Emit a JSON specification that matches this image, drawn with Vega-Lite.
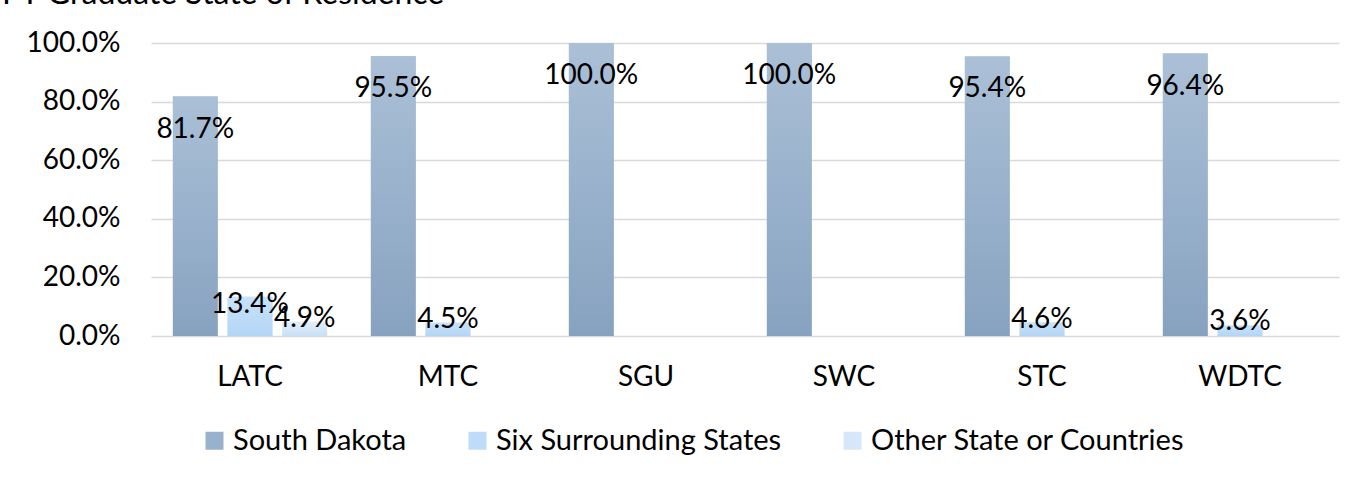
{
  "$schema": "https://vega.github.io/schema/vega-lite/v6.json",
  "autosize": {"type": "none"},
  "width": 1188,
  "height": 293,
  "padding": {"left": 151, "top": 43, "right": 33, "bottom": 143},
  "background": "white",
  "title": {
    "text": "FY Graduate State of Residence",
    "anchor": "start",
    "frame": "group",
    "dx": -149,
    "offset": -7,
    "baseline": "alphabetic",
    "fontSize": 32,
    "fontWeight": "normal",
    "font": "Lato",
    "color": "#000000"
  },
  "data": {
    "values": [
      {"college": "LATC", "series": "South Dakota", "value": 0.817},
      {"college": "LATC", "series": "Six Surrounding States", "value": 0.134},
      {"college": "LATC", "series": "Other State or Countries", "value": 0.049},
      {"college": "MTC", "series": "South Dakota", "value": 0.955},
      {"college": "MTC", "series": "Six Surrounding States", "value": 0.045},
      {"college": "SGU", "series": "South Dakota", "value": 1.0},
      {"college": "SWC", "series": "South Dakota", "value": 1.0},
      {"college": "STC", "series": "South Dakota", "value": 0.954},
      {"college": "STC", "series": "Six Surrounding States", "value": 0.046},
      {"college": "WDTC", "series": "South Dakota", "value": 0.964},
      {"college": "WDTC", "series": "Six Surrounding States", "value": 0.036}
    ]
  },
  "encoding": {
    "x": {
      "field": "college",
      "type": "nominal",
      "sort": ["LATC", "MTC", "SGU", "SWC", "STC", "WDTC"],
      "scale": {"paddingInner": 0, "paddingOuter": 0},
      "axis": {
        "title": null,
        "labelAngle": 0,
        "domain": false,
        "ticks": false,
        "labelPadding": 27,
        "labelFontSize": 28,
        "labelFont": "Lato",
        "labelColor": "#000000"
      }
    },
    "xOffset": {
      "field": "series",
      "type": "nominal",
      "scale": {
        "domain": ["South Dakota", "Six Surrounding States", "Other State or Countries"],
        "paddingInner": 0.182,
        "paddingOuter": 0.4
      }
    },
    "y": {
      "field": "value",
      "type": "quantitative",
      "scale": {"domain": [0, 1]},
      "axis": {
        "title": null,
        "values": [0, 0.2, 0.4, 0.6, 0.8, 1.0],
        "format": ".1%",
        "domain": false,
        "ticks": false,
        "grid": true,
        "gridColor": "#d9d9d9",
        "gridWidth": 1.5,
        "labelPadding": 31,
        "labelFontSize": 28,
        "labelFont": "Lato",
        "labelColor": "#000000"
      }
    }
  },
  "layer": [
    {
      "mark": {"type": "bar"},
      "encoding": {
        "color": {
          "field": "series",
          "type": "nominal",
          "scale": {
            "domain": ["South Dakota", "Six Surrounding States", "Other State or Countries"],
            "range": ["#98B1CC", "#BEDCF8", "#D6E7F7"]
          },
          "legend": {
            "title": null,
            "orient": "none",
            "legendX": 49,
            "legendY": 383,
            "direction": "horizontal",
            "columns": 3,
            "columnPadding": 56,
            "symbolType": "square",
            "symbolSize": 324,
            "symbolStrokeWidth": 0,
            "symbolOpacity": 1,
            "labelFontSize": 29,
            "labelFont": "Lato",
            "labelColor": "#000000",
            "labelOffset": 4,
            "labelLimit": 0,
            "padding": 0
          }
        }
      }
    },
    {
      "transform": [{"filter": "datum.series === 'South Dakota'"}],
      "mark": {"type": "bar", "color": {"gradient": "linear", "x1": 0, "y1": 0, "x2": 0, "y2": 1, "stops": [{"offset": 0, "color": "#ABC0D7"}, {"offset": 1, "color": "#87A2C0"}]}}
    },
    {
      "transform": [{"filter": "datum.series === 'Six Surrounding States'"}],
      "mark": {"type": "bar", "color": {"gradient": "linear", "x1": 0, "y1": 0, "x2": 0, "y2": 1, "stops": [{"offset": 0, "color": "#C8E2FB"}, {"offset": 1, "color": "#B3D5F5"}]}}
    },
    {
      "transform": [{"filter": "datum.series === 'Other State or Countries'"}],
      "mark": {"type": "bar", "color": {"gradient": "linear", "x1": 0, "y1": 0, "x2": 0, "y2": 1, "stops": [{"offset": 0, "color": "#E3EFFA"}, {"offset": 1, "color": "#CADFF4"}]}}
    },
    {
      "transform": [{"filter": "datum.value > 0.5"}],
      "mark": {"type": "text", "baseline": "middle", "align": "center", "dy": 33, "fontSize": 28, "font": "Lato", "color": "#000000"},
      "encoding": {"text": {"field": "value", "type": "quantitative", "format": ".1%"}}
    },
    {
      "transform": [{"filter": "datum.value > 0.1 && datum.value <= 0.5"}],
      "mark": {"type": "text", "baseline": "middle", "align": "center", "dy": 8, "fontSize": 28, "font": "Lato", "color": "#000000"},
      "encoding": {"text": {"field": "value", "type": "quantitative", "format": ".1%"}}
    },
    {
      "transform": [{"filter": "datum.value <= 0.1"}],
      "mark": {"type": "text", "baseline": "middle", "align": "center", "dy": -3, "fontSize": 28, "font": "Lato", "color": "#000000"},
      "encoding": {"text": {"field": "value", "type": "quantitative", "format": ".1%"}}
    }
  ],
  "config": {"view": {"stroke": null}}
}
